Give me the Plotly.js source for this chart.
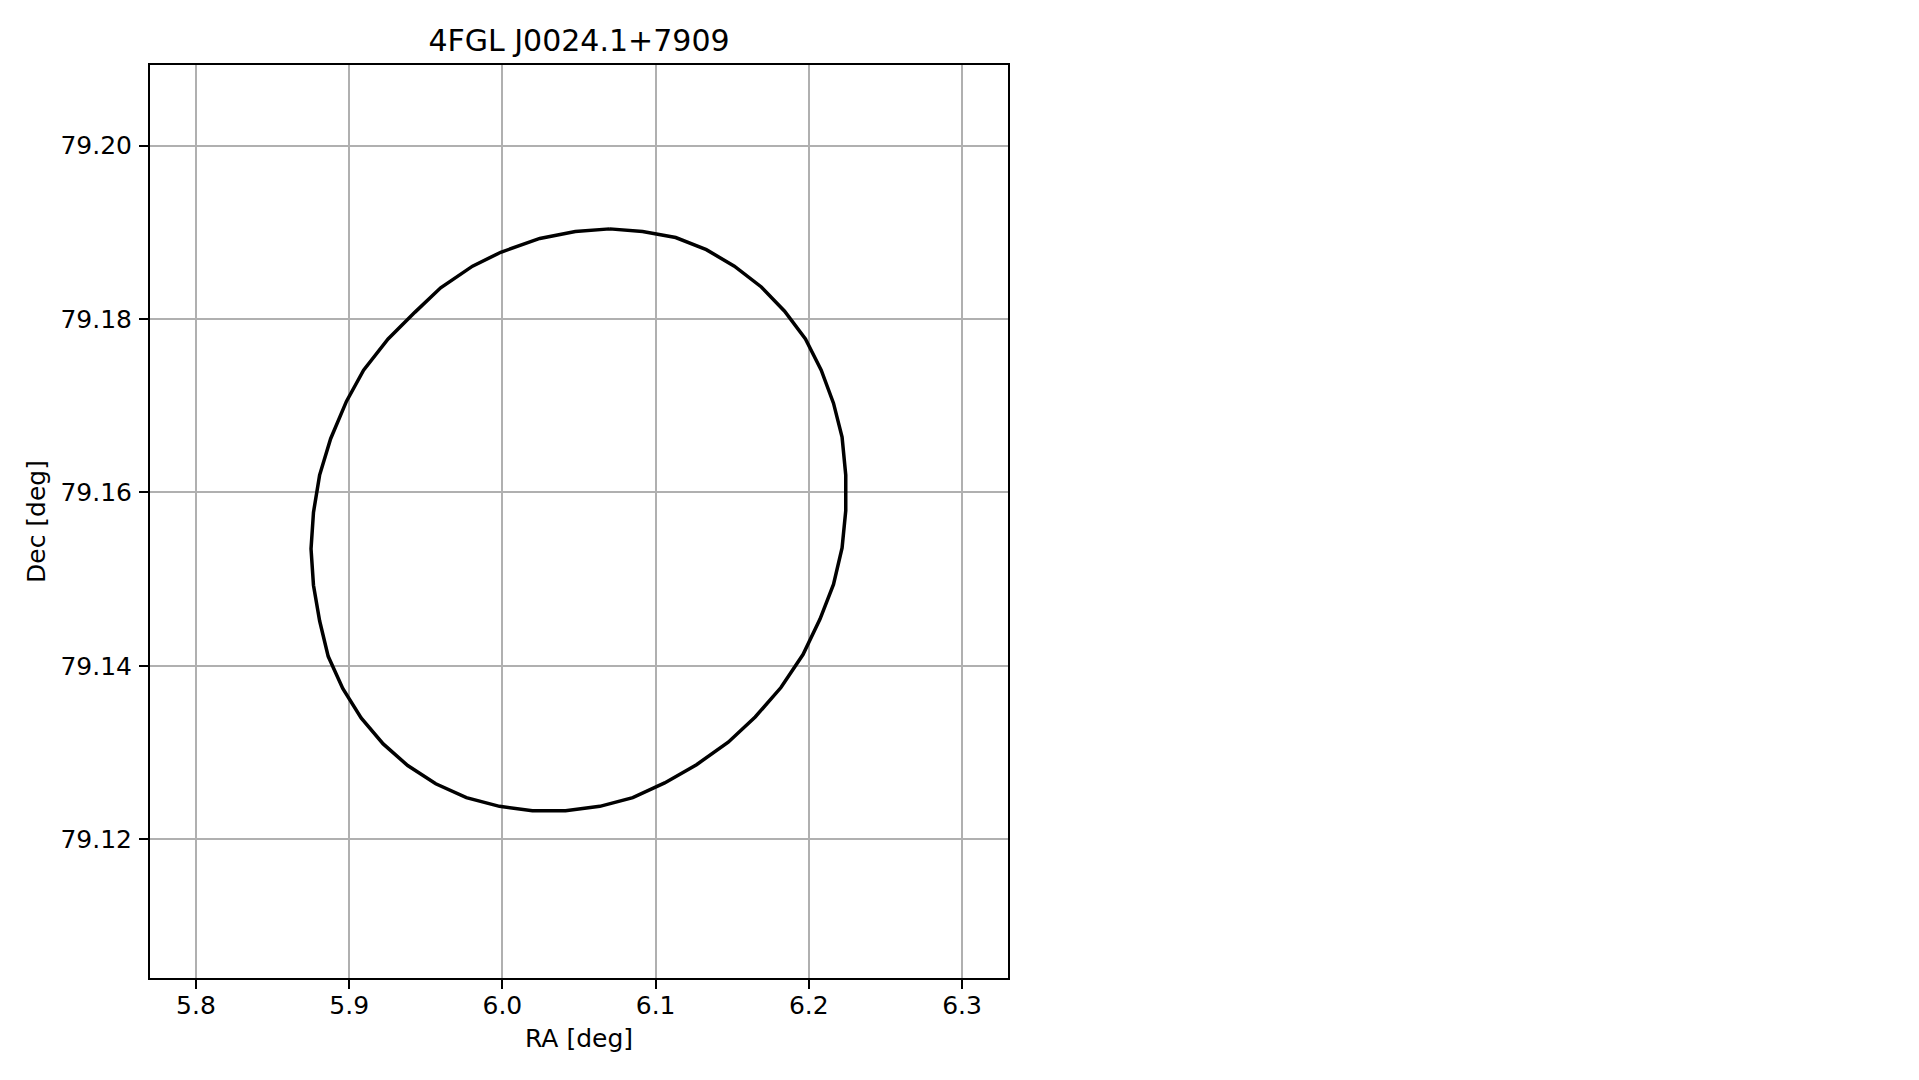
<!DOCTYPE html>
<html>
<head>
<meta charset="utf-8">
<script src="https://cdn.plot.ly/plotly-3.0.1.min.js"></script>
<style>html,body{margin:0;padding:0;background:#fff;}#chart{width:1919px;height:1080px;}</style>
</head>
<body>
<div id="chart"></div>
<script>
const chartTitle = "4FGL J0024.1+7909";
const xLabel = "RA [deg]";
const yLabel = "Dec [deg]";

// Error ellipse contour (RA, Dec)
const ra = [6.0700, 6.0476, 6.0244, 5.9989, 5.9805, 5.9597, 5.9430, 5.9254, 5.9094, 5.8982,
            5.8879, 5.8807, 5.8767, 5.8751, 5.8767, 5.8807, 5.8863, 5.8958, 5.9078, 5.9222,
            5.9382, 5.9565, 5.9765, 5.9981, 6.0196, 6.0412, 6.0636, 6.0851, 6.1059, 6.1267,
            6.1474, 6.1650, 6.1818, 6.1962, 6.2073, 6.2161, 6.2217, 6.2241, 6.2241, 6.2217,
            6.2161, 6.2081, 6.1978, 6.1842, 6.1690, 6.1514, 6.1331, 6.1131, 6.0915, 6.0700];
const dec = [79.1904, 79.1901, 79.1893, 79.1877, 79.1861, 79.1836, 79.1808, 79.1777, 79.1741, 79.1705,
             79.1662, 79.1620, 79.1577, 79.1535, 79.1493, 79.1452, 79.1411, 79.1374, 79.1340, 79.1310,
             79.1285, 79.1264, 79.1248, 79.1238, 79.1233, 79.1233, 79.1238, 79.1248, 79.1265, 79.1286,
             79.1312, 79.1341, 79.1375, 79.1413, 79.1454, 79.1494, 79.1536, 79.1579, 79.1620, 79.1664,
             79.1703, 79.1741, 79.1777, 79.1809, 79.1837, 79.1861, 79.1880, 79.1894, 79.1901, 79.1904];

const xRange = [5.77, 6.33];
const yRange = [79.1040, 79.2093];

const font = "DejaVu Sans, sans-serif";

const trace = {
  x: ra, y: dec, type: "scatter", mode: "lines",
  line: {color: "#000000", width: 3.5},
  hoverinfo: "skip", showlegend: false
};

const axisCommon = {
  showgrid: true, gridcolor: "#b0b0b0", gridwidth: 2,
  zeroline: false,
  showline: true, linecolor: "#000000", linewidth: 2, mirror: true,
  ticks: "outside", ticklen: 9, tickwidth: 2, tickcolor: "#000000",
  tickfont: {family: font, size: 25, color: "#000000"}
};

const layout = {
  width: 1919, height: 1080,
  paper_bgcolor: "#ffffff", plot_bgcolor: "#ffffff",
  margin: {l: 150, r: 911, t: 65, b: 102, pad: 0},
  font: {family: font, color: "#000000"},
  title: {
    text: chartTitle, font: {family: font, size: 30, color: "#000000"},
    xref: "paper", x: 0.5, xanchor: "center",
    yref: "paper", y: 1, yanchor: "bottom", pad: {b: 14}
  },
  xaxis: Object.assign({}, axisCommon, {
    range: xRange, tick0: 5.8, dtick: 0.1, tickformat: ".1f",
    ticklabelstandoff: -5,
    title: {text: xLabel, font: {family: font, size: 25, color: "#000000"}, standoff: 10}
  }),
  yaxis: Object.assign({}, axisCommon, {
    range: yRange, tick0: 79.12, dtick: 0.02, tickformat: ".2f",
    ticklabelstandoff: 2,
    title: {text: yLabel, font: {family: font, size: 25, color: "#000000"}, standoff: 8}
  })
};

Plotly.newPlot("chart", [trace], layout, {staticPlot: true, displayModeBar: false});
</script>
</body>
</html>
